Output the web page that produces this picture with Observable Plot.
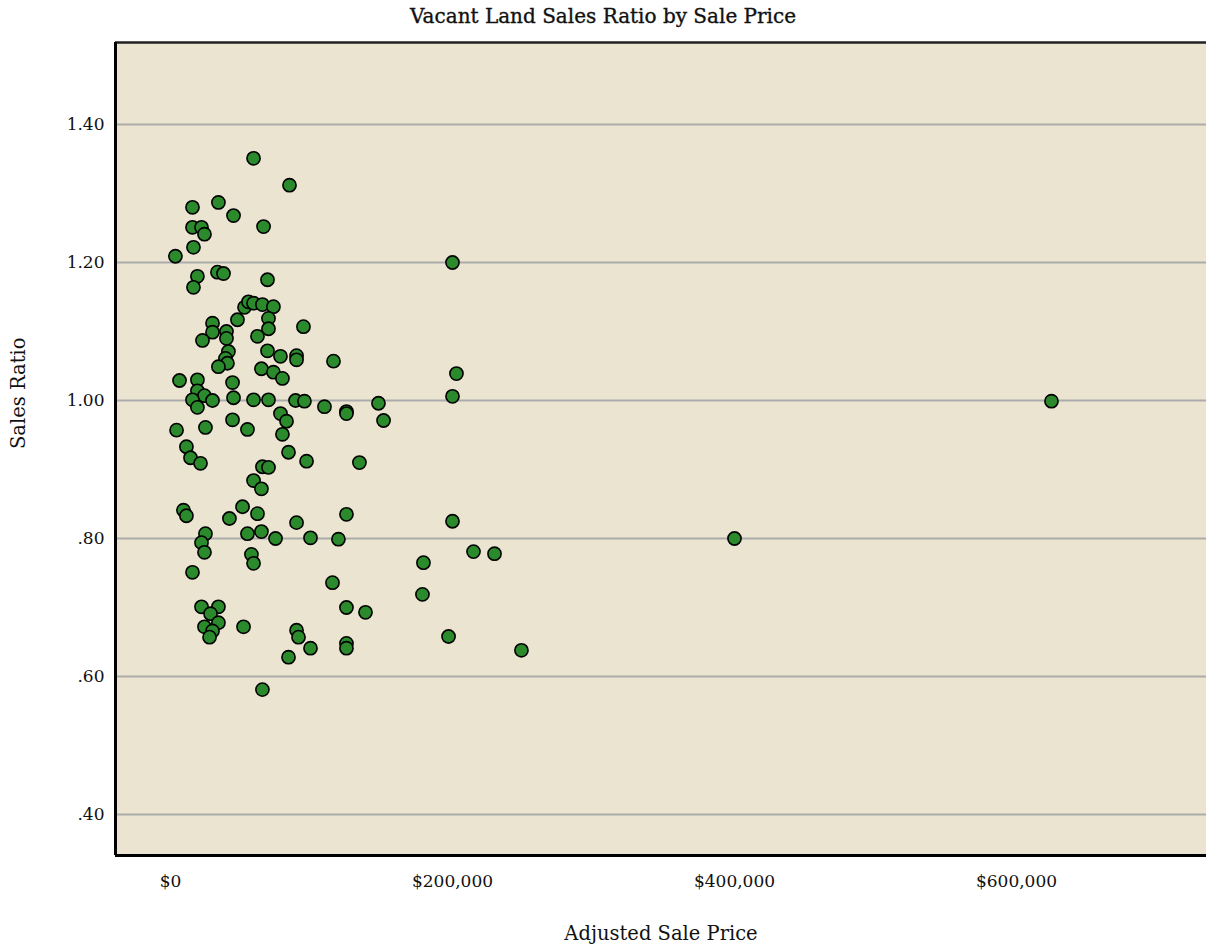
<!DOCTYPE html>
<html>
<head>
<meta charset="utf-8">
<script src="https://cdn.jsdelivr.net/npm/d3@7"></script>
<script src="https://cdn.jsdelivr.net/npm/@observablehq/plot@0.6"></script>
<style>
  html, body { margin: 0; padding: 0; background: #fff; }
  #title { width: 1206px; height: 30px; line-height: 32px; text-align: center;
           font-family: "DejaVu Serif", serif; font-size: 20px; font-weight: normal; color: #111;
           -webkit-text-stroke: 0.35px #111; }
  svg { display: block; }
</style>
</head>
<body>
<div id="title">Vacant Land Sales Ratio by Sale Price</div>
<div id="chart"></div>
<script>
const chartTitle = "Vacant Land Sales Ratio by Sale Price";
const xLabel = "Adjusted Sale Price";
const yLabel = "Sales Ratio";
const xTicks = [0, 200000, 400000, 600000];
const yTicks = [0.4, 0.6, 0.8, 1.0, 1.2, 1.4];

const salePrice = [
  58900, 84400, 34000, 15600, 44700, 66000, 15600, 22000, 24100, 16300,
  3500, 19100, 16300, 33300, 37600, 68800, 52500, 55300, 58900, 65200,
  73000, 47500, 29800, 69500, 29800, 69500, 39700, 39700, 22700, 61700,
  41100, 68800, 78000, 89400, 89400, 39000, 40400, 34000, 64500, 73000,
  79400, 6400, 19100, 44000, 19100, 24100, 15600, 29800, 19100, 44700,
  58900, 69500, 88700, 78000, 82300, 79400, 4300, 24800, 44000, 54600,
  83700, 11300, 14200, 21300, 65200, 69500, 58900, 64500, 9200, 11300,
  41800, 51100, 61700, 89400, 24800, 22000, 24100, 54600, 64500, 74500,
  57400, 58900, 15600, 22000, 34000, 28400, 34000, 24100, 29800, 27700,
  51800, 89400, 90800, 83700, 65200, 200000, 94300, 115600, 202800, 200000,
  95000, 109200, 124800, 124800, 147500, 151100, 96500, 134000, 124800, 200000,
  99300, 119100, 214900, 229800, 179400, 114900, 178700, 124800, 138300, 99300,
  124800, 124800, 197200, 248900, 400000, 624800
];
const salesRatio = [
  1.351, 1.312, 1.287, 1.280, 1.268, 1.252, 1.251, 1.251, 1.241, 1.222,
  1.209, 1.180, 1.164, 1.186, 1.184, 1.175, 1.135, 1.143, 1.141, 1.139,
  1.136, 1.117, 1.112, 1.119, 1.099, 1.104, 1.100, 1.090, 1.087, 1.093,
  1.071, 1.072, 1.064, 1.065, 1.059, 1.061, 1.054, 1.049, 1.046, 1.041,
  1.032, 1.029, 1.030, 1.026, 1.014, 1.007, 1.001, 1.000, 0.990, 1.004,
  1.001, 1.001, 1.000, 0.981, 0.970, 0.951, 0.957, 0.961, 0.972, 0.958,
  0.925, 0.933, 0.917, 0.909, 0.904, 0.903, 0.884, 0.872, 0.841, 0.833,
  0.829, 0.846, 0.836, 0.823, 0.807, 0.794, 0.780, 0.807, 0.810, 0.800,
  0.777, 0.764, 0.751, 0.701, 0.701, 0.691, 0.678, 0.672, 0.666, 0.657,
  0.672, 0.667, 0.657, 0.628, 0.581, 1.200, 1.107, 1.057, 1.039, 1.006,
  0.999, 0.991, 0.984, 0.981, 0.996, 0.971, 0.912, 0.910, 0.835, 0.825,
  0.801, 0.799, 0.781, 0.778, 0.765, 0.736, 0.719, 0.700, 0.693, 0.641,
  0.648, 0.641, 0.658, 0.638, 0.800, 0.999
];

const data = salePrice.map((p, i) => ({price: p, ratio: salesRatio[i]}));
const xDomain = [-39000, 734750];
const yDomain = [0.3406, 1.5188];
const font = "DejaVu Serif, serif";

const chart = Plot.plot({
  width: 1206,
  height: 922,
  marginTop: 12,
  marginBottom: 97,
  marginLeft: 115,
  marginRight: 0,
  style: {background: "#fff", fontFamily: font, fontSize: "17px", color: "#111"},
  x: {domain: xDomain, label: null},
  y: {domain: yDomain, label: null},
  marks: [
    Plot.frame({fill: "#EAE4D1", stroke: null}),
    Plot.gridY(yTicks, {stroke: "#ababab", strokeOpacity: 1, strokeWidth: 2}),
    Plot.axisY(yTicks, {tickSize: 0, tickPadding: 11, fontSize: 17,
      tickFormat: d => d3.format(".2f")(d).replace(/^0/, "")}),
    Plot.axisX(xTicks, {tickSize: 0, tickPadding: 19, fontSize: 17,
      tickFormat: d => "$" + d3.format(",")(d)}),
    Plot.ruleY([yDomain[1]], {stroke: "#222", strokeWidth: 2.5}),
    Plot.ruleY([yDomain[0]], {stroke: "#000", strokeWidth: 3}),
    Plot.ruleX([xDomain[0]], {stroke: "#000", strokeWidth: 3}),
    Plot.dot(data, {x: "price", y: "ratio", r: 6.6, fill: "#2B8A2B", stroke: "#000", strokeWidth: 1.6, fillOpacity: 1}),
    Plot.text([xLabel], {frameAnchor: "bottom", dy: 84, fontSize: 19.5, fill: "#111"}),
    Plot.text([yLabel], {frameAnchor: "left", dx: -97, rotate: -90, fontSize: 19.5, fill: "#111"})
  ]
});
document.getElementById("chart").appendChild(chart);
</script>
</body>
</html>
